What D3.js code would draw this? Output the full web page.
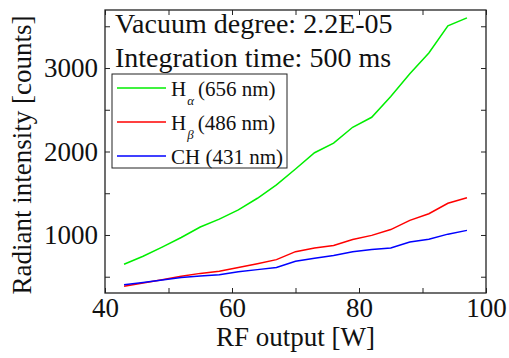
<!DOCTYPE html>
<html>
<head>
<meta charset="utf-8">
<script src="https://cdn.jsdelivr.net/npm/d3@7"></script>
<style>
  body { margin: 0; background: #fff; }
  svg { display: block; }
  svg text { font-family: "Liberation Serif", "Times New Roman", serif; fill: #111; }
</style>
</head>
<body>
<svg id="chart" width="509" height="358"></svg>
<script>
// RF output values [W]
const rfOutput = [43, 46, 49, 52, 55, 58, 61, 64, 67, 70, 73, 76, 79, 82, 85, 88, 91, 94, 97];
// Radiant intensity [counts]
const hAlpha = [650, 745, 855, 970, 1095, 1190, 1300, 1440, 1600, 1790, 1985, 2100, 2290, 2410, 2660, 2930, 3180, 3505, 3600];
const hBeta = [385, 425, 465, 505, 540, 565, 610, 655, 705, 800, 845, 875, 945, 995, 1065, 1175, 1255, 1380, 1445];
const ch = [405, 430, 460, 490, 510, 525, 560, 585, 610, 685, 720, 755, 800, 825, 845, 915, 950, 1010, 1055];

const seriesNames = ["H", "H", "CH"];
const seriesSubs = ["\u03b1", "\u03b2", ""];
const seriesNm = ["(656 nm)", "(486 nm)", "(431 nm)"];
const seriesColors = ["#00ee00", "#ff0000", "#0000ff"];
const seriesValues = [hAlpha, hBeta, ch];

const xTicks = [40, 60, 80, 100];
const yTicks = [1000, 2000, 3000];
const xMinor = [50, 70, 90];
const yMinor = [500, 1500, 2500, 3500];

const svg = d3.select("#chart");
const margin = { top: 10, right: 23, bottom: 65, left: 105 };
const width = 509 - margin.left - margin.right;
const height = 358 - margin.top - margin.bottom;

const x = d3.scaleLinear().domain([40, 100]).range([0, width]);
const y = d3.scaleLinear().domain([305, 3695]).range([height, 0]);

const g = svg.append("g").attr("transform", `translate(${margin.left},${margin.top})`);

// ticks point inward on all four sides
const tickLen = 5;
const fmt = d3.format("d");
g.append("g").attr("transform", `translate(0,${height})`)
  .call(d3.axisBottom(x).tickValues(xTicks).tickSize(-tickLen).tickPadding(5).tickFormat(fmt));
g.append("g")
  .call(d3.axisTop(x).tickValues(xTicks).tickSize(-tickLen).tickFormat(""));
g.append("g")
  .call(d3.axisLeft(y).tickValues(yTicks).tickSize(-tickLen).tickPadding(7).tickFormat(fmt));
g.append("g").attr("transform", `translate(${width},0)`)
  .call(d3.axisRight(y).tickValues(yTicks).tickSize(-tickLen).tickFormat(""));

// minor ticks
g.append("g").attr("transform", `translate(0,${height})`)
  .call(d3.axisBottom(x).tickValues(xMinor).tickSize(-tickLen).tickFormat(""));
g.append("g").call(d3.axisTop(x).tickValues(xMinor).tickSize(-tickLen).tickFormat(""));
g.append("g").call(d3.axisLeft(y).tickValues(yMinor).tickSize(-tickLen).tickFormat(""));
g.append("g").attr("transform", `translate(${width},0)`)
  .call(d3.axisRight(y).tickValues(yMinor).tickSize(-tickLen).tickFormat(""));

g.selectAll("g").attr("font-family", null).attr("font-size", null);
g.selectAll(".domain").remove();
g.selectAll(".tick line").attr("stroke", "#222").attr("stroke-width", 1);
g.selectAll(".tick text").style("font-size", "27px");

// frame
g.append("rect").attr("width", width).attr("height", height)
  .attr("fill", "none").attr("stroke", "#222").attr("stroke-width", 1.3);

// lines
const line = d3.line().x((d, i) => x(rfOutput[i])).y(d => y(d));
seriesValues.forEach((vals, i) => {
  g.append("path").datum(vals)
    .attr("fill", "none")
    .attr("stroke", seriesColors[i])
    .attr("stroke-width", 1.5)
    .attr("d", line);
});

// annotation text
g.append("text").attr("x", 10).attr("y", 23).style("font-size", "28px")
  .text("Vacuum degree: 2.2E-05");
g.append("text").attr("x", 10).attr("y", 57).style("font-size", "28px")
  .text("Integration time: 500 ms");

// legend
const legend = g.append("g").attr("transform", "translate(7,64)");
legend.append("rect").attr("width", 175).attr("height", 94)
  .attr("fill", "#fff").attr("stroke", "#222").attr("stroke-width", 1);
const rowY = [14, 48, 82];
seriesNames.forEach((name, i) => {
  const row = legend.append("g").attr("transform", `translate(0,${rowY[i]})`);
  row.append("line").attr("x1", 5).attr("x2", 54).attr("y1", 0).attr("y2", 0)
    .attr("stroke", seriesColors[i]).attr("stroke-width", 1.5);
  const t = row.append("text").attr("x", 59).attr("y", 8).style("font-size", "21px");
  t.append("tspan").text(name);
  if (seriesSubs[i]) {
    t.append("tspan").style("font-size", "13px").style("font-style", "italic")
      .attr("dy", 9).attr("dx", 1).text(seriesSubs[i]);
    t.append("tspan").attr("dy", -9).attr("dx", 4).text(seriesNm[i]);
  } else {
    t.append("tspan").text(" " + seriesNm[i]);
  }
});

// axis titles
svg.append("text").attr("x", margin.left + width / 2).attr("y", 346)
  .attr("text-anchor", "middle").style("font-size", "27px")
  .text("RF output [W]");
svg.append("text").attr("transform", "translate(31,155) rotate(-90)")
  .attr("text-anchor", "middle").style("font-size", "27px")
  .text("Radiant intensity [counts]");
</script>
</body>
</html>
